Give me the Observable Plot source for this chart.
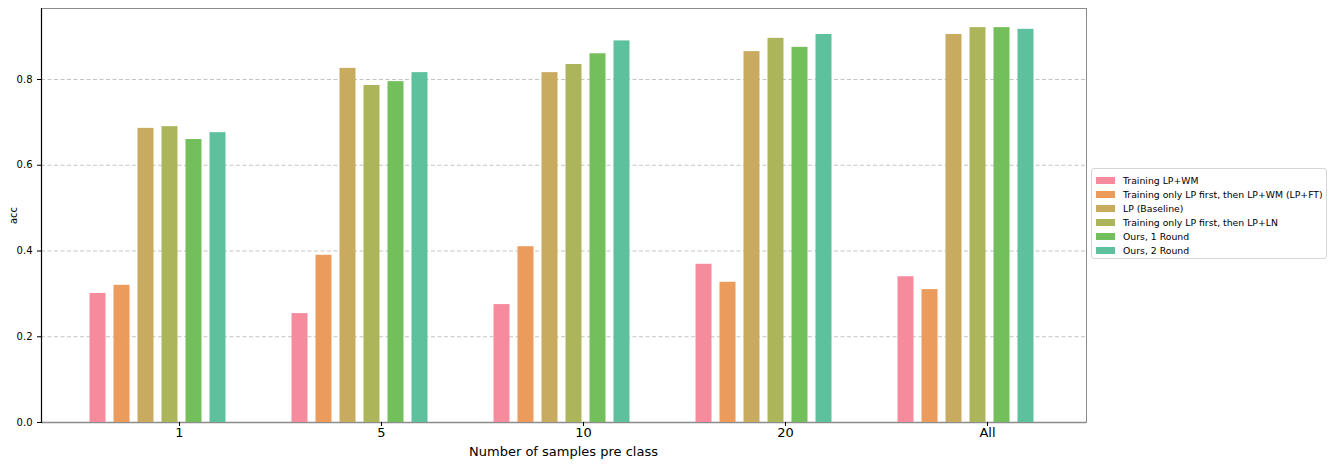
<!DOCTYPE html>
<html>
<head>
<meta charset="utf-8">
<script src="https://cdn.jsdelivr.net/npm/d3@7"></script>
<script src="https://cdn.jsdelivr.net/npm/@observablehq/plot@0.6"></script>
<style>
  body { margin: 0; background: #fff; font-family: "DejaVu Sans", sans-serif; }
  #wrap { position: relative; width: 1333px; height: 466px; }
  #wrap svg { position: absolute; left: 0; top: 0; background: transparent; }
  #legend { position: absolute; left: 1091px; top: 168px; width: 236px; height: 91px;
    border: 1px solid #d6d6d6; border-radius: 3px; background: #fff; box-sizing: border-box;
    padding: 4px 0 0 4px; font-size: 9.3px; color: #000; white-space: nowrap; }
  .row { display: flex; align-items: center; height: 14px; }
  .sw { width: 19px; height: 7px; margin-right: 8px; flex: none; }
</style>
</head>
<body>
<div id="wrap"><div id="legend"></div></div>
<script>
const groups = ["1", "5", "10", "20", "All"];
const series = [
  "Training LP+WM",
  "Training only LP first, then LP+WM (LP+FT)",
  "LP (Baseline)",
  "Training only LP first, then LP+LN",
  "Ours, 1 Round",
  "Ours, 2 Round"
];
const colors = ["#f78b9e", "#eb9c5c", "#c8ab5e", "#adb55b", "#73bf5b", "#5ec19e"];
// values per series, in order of groups
const trainingLPWM   = [0.301, 0.254, 0.275, 0.369, 0.340];
const lpThenLPWM     = [0.320, 0.390, 0.410, 0.327, 0.310];
const lpBaseline     = [0.686, 0.826, 0.816, 0.865, 0.905];
const lpThenLPLN     = [0.690, 0.786, 0.835, 0.896, 0.921];
const ours1          = [0.660, 0.795, 0.860, 0.875, 0.921];
const ours2          = [0.676, 0.816, 0.890, 0.905, 0.917];
const yTicks = [0, 0.2, 0.4, 0.6, 0.8];

const seriesValues = [trainingLPWM, lpThenLPWM, lpBaseline, lpThenLPLN, ours1, ours2];
const data = [];
series.forEach((s, i) => groups.forEach((g, j) => data.push({group: g, series: s, value: seriesValues[i][j]})));

const common = {
  width: 1333, height: 466,
  marginLeft: 41, marginRight: 247, marginTop: 8, marginBottom: 44,
  style: {fontFamily: "DejaVu Sans, sans-serif", background: "transparent", overflow: "visible"}
};
const yDomain = [0, 0.9656];

const base = Plot.plot({
  ...common,
  y: {domain: yDomain},
  marks: [
    Plot.ruleY(yTicks.filter(d => d > 0), {stroke: "#bdbdbd", strokeDasharray: "4,2.5", strokeWidth: 0.9}),
    Plot.frame({stroke: "#8c8c8c"}),
    Plot.ruleY([0], {stroke: "#8c8c8c", strokeWidth: 1.6}),
    Plot.frame({anchor: "left", stroke: "#000", strokeWidth: 1.2}),
    Plot.axisY({ticks: yTicks, tickFormat: d3.format(".1f"), tickSize: 4, fontSize: 10,
      label: "acc", labelAnchor: "center", labelArrow: "none", labelOffset: 32, color: "#000"})
  ]
});

const bars = Plot.plot({
  ...common,
  y: {domain: yDomain, axis: null},
  fx: {domain: groups, paddingInner: 0.276, paddingOuter: 0.212},
  x: {domain: series, paddingInner: 0.347, paddingOuter: 0.1735, axis: null},
  color: {domain: series, range: colors},
  marks: [
    Plot.barY(data, {fx: "group", x: "series", y: "value", fill: "series", dx: -1.5}),
    Plot.axisFx({anchor: "bottom", dx: 20, tickSize: 4, tickPadding: 1, fontSize: 13,
      label: "Number of samples pre class", labelAnchor: "center", labelArrow: "none", labelOffset: 33})
  ]
});

const wrap = document.getElementById("wrap");
wrap.insertBefore(base, wrap.firstChild);
wrap.insertBefore(bars, document.getElementById("legend"));

const legend = document.getElementById("legend");
series.forEach((s, i) => {
  const row = document.createElement("div");
  row.className = "row";
  const sw = document.createElement("span");
  sw.className = "sw";
  sw.style.background = colors[i];
  const t = document.createElement("span");
  t.textContent = s;
  row.appendChild(sw); row.appendChild(t);
  legend.appendChild(row);
});
</script>
</body>
</html>
